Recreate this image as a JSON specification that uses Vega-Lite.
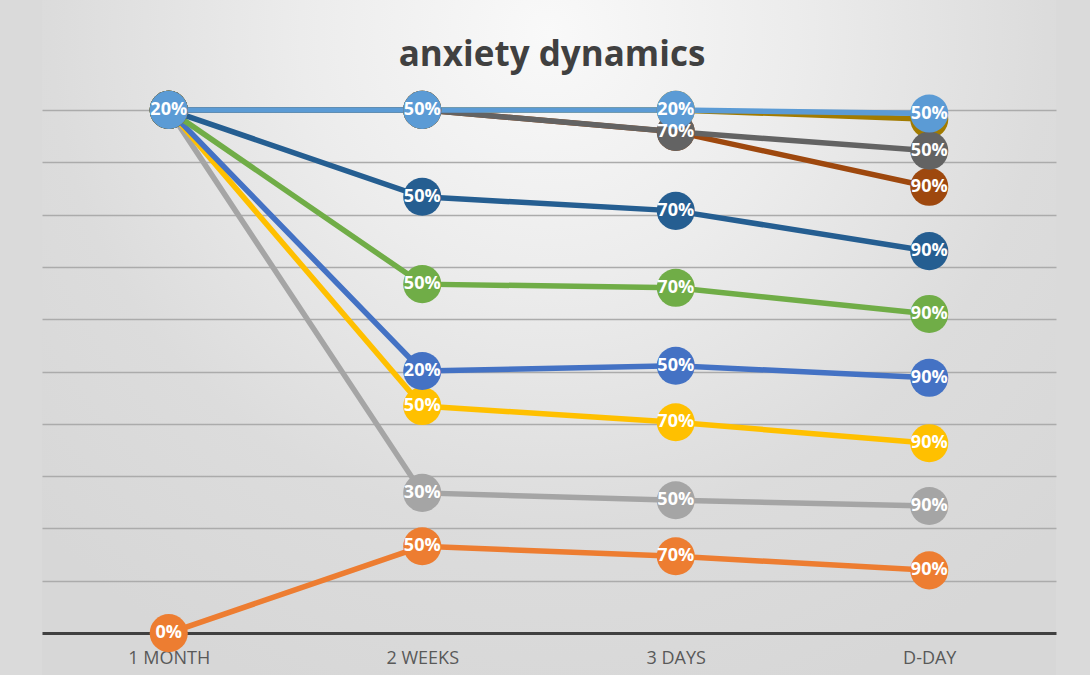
{
  "$schema": "https://vega.github.io/schema/vega-lite/v6.json",
  "width": 1014,
  "height": 675,
  "autosize": {"type": "none"},
  "padding": {"left": 42, "right": 34, "top": 0, "bottom": 0},
  "background": "#dadada",
  "title": {
    "text": "anxiety dynamics",
    "orient": "top",
    "anchor": "middle",
    "frame": "group",
    "offset": -101,
    "baseline": "alphabetic",
    "dx": 3,
    "font": "Open Sans",
    "fontSize": 35,
    "fontWeight": "bold",
    "color": "#404040"
  },
  "config": {
    "view": {
      "stroke": null,
      "fill": {
        "gradient": "radial",
        "x1": 0.5, "y1": 0.2, "r1": 0,
        "x2": 0.5, "y2": 0.2, "r2": 0.7,
        "stops": [
          {"offset": 0, "color": "#f9f9f9"},
          {"offset": 0.35, "color": "#ececec"},
          {"offset": 0.7, "color": "#dcdcdc"},
          {"offset": 1, "color": "#d7d7d7"}
        ]
      }
    }
  },
  "data": {
    "values": [
      {"series": "orange", "period": "1 MONTH", "v": 0, "label": "0%"},
      {"series": "orange", "period": "2 WEEKS", "v": 1.66, "label": "50%"},
      {"series": "orange", "period": "3 DAYS", "v": 1.47, "label": "70%"},
      {"series": "orange", "period": "D-DAY", "v": 1.2, "label": "90%"},
      {"series": "lightgray", "period": "1 MONTH", "v": 10, "label": null},
      {"series": "lightgray", "period": "2 WEEKS", "v": 2.68, "label": "30%"},
      {"series": "lightgray", "period": "3 DAYS", "v": 2.54, "label": "50%"},
      {"series": "lightgray", "period": "D-DAY", "v": 2.43, "label": "90%"},
      {"series": "yellow", "period": "1 MONTH", "v": 10, "label": null},
      {"series": "yellow", "period": "2 WEEKS", "v": 4.34, "label": "50%"},
      {"series": "yellow", "period": "3 DAYS", "v": 4.03, "label": "70%"},
      {"series": "yellow", "period": "D-DAY", "v": 3.63, "label": "90%"},
      {"series": "blue", "period": "1 MONTH", "v": 10, "label": null},
      {"series": "blue", "period": "2 WEEKS", "v": 5.01, "label": "20%"},
      {"series": "blue", "period": "3 DAYS", "v": 5.11, "label": "50%"},
      {"series": "blue", "period": "D-DAY", "v": 4.88, "label": "90%"},
      {"series": "green", "period": "1 MONTH", "v": 10, "label": null},
      {"series": "green", "period": "2 WEEKS", "v": 6.67, "label": "50%"},
      {"series": "green", "period": "3 DAYS", "v": 6.6, "label": "70%"},
      {"series": "green", "period": "D-DAY", "v": 6.1, "label": "90%"},
      {"series": "darkblue", "period": "1 MONTH", "v": 10, "label": null},
      {"series": "darkblue", "period": "2 WEEKS", "v": 8.34, "label": "50%"},
      {"series": "darkblue", "period": "3 DAYS", "v": 8.07, "label": "70%"},
      {"series": "darkblue", "period": "D-DAY", "v": 7.3, "label": "90%"},
      {"series": "brown", "period": "1 MONTH", "v": 10, "label": null},
      {"series": "brown", "period": "2 WEEKS", "v": 10, "label": null},
      {"series": "brown", "period": "3 DAYS", "v": 9.58, "label": null},
      {"series": "brown", "period": "D-DAY", "v": 8.53, "label": "90%"},
      {"series": "gold", "period": "1 MONTH", "v": 10, "label": null},
      {"series": "gold", "period": "2 WEEKS", "v": 10, "label": null},
      {"series": "gold", "period": "3 DAYS", "v": 10, "label": null},
      {"series": "gold", "period": "D-DAY", "v": 9.82, "label": null},
      {"series": "gray", "period": "1 MONTH", "v": 10, "label": null},
      {"series": "gray", "period": "2 WEEKS", "v": 10, "label": null},
      {"series": "gray", "period": "3 DAYS", "v": 9.58, "label": "70%"},
      {"series": "gray", "period": "D-DAY", "v": 9.22, "label": "50%"},
      {"series": "lightblue", "period": "1 MONTH", "v": 10, "label": "20%"},
      {"series": "lightblue", "period": "2 WEEKS", "v": 10, "label": "50%"},
      {"series": "lightblue", "period": "3 DAYS", "v": 10, "label": "20%"},
      {"series": "lightblue", "period": "D-DAY", "v": 9.93, "label": "50%"}
    ]
  },
  "encoding": {
    "x": {
      "field": "period",
      "type": "ordinal",
      "sort": ["1 MONTH", "2 WEEKS", "3 DAYS", "D-DAY"],
      "scale": {"type": "point", "padding": 0.5},
      "axis": {
        "title": null,
        "orient": "bottom",
        "offset": -42,
        "domainColor": "#404040",
        "domainWidth": 3,
        "ticks": false,
        "grid": false,
        "labelAngle": 0,
        "labelPadding": 16,
        "labelFont": "Open Sans",
        "labelFontSize": 18,
        "labelColor": "#595959"
      }
    },
    "y": {
      "field": "v",
      "type": "quantitative",
      "scale": {"domain": [-0.8, 12.1], "nice": false, "zero": false},
      "axis": {
        "title": null,
        "values": [1, 2, 3, 4, 5, 6, 7, 8, 9, 10],
        "labels": false,
        "ticks": false,
        "domain": false,
        "grid": true,
        "gridColor": "#ababab",
        "gridWidth": 1.5
      }
    },
    "color": {
      "field": "series",
      "type": "nominal",
      "legend": null,
      "scale": {
        "domain": ["orange", "lightgray", "yellow", "blue", "green", "darkblue", "brown", "gold", "gray", "lightblue"],
        "range": ["#ED7D31", "#A5A5A5", "#FFC000", "#4472C4", "#70AD47", "#255E91", "#9E480E", "#A27B00", "#636363", "#5B9BD5"]
      }
    }
  },
  "layer": [
    {
      "mark": {"type": "line", "strokeWidth": 5.5, "strokeCap": "round"},
      "encoding": {}
    },
    {
      "mark": {"type": "circle", "size": 1450, "opacity": 1},
      "encoding": {}
    },
    {
      "transform": [{"filter": "datum.label != null"}],
      "mark": {
        "type": "text",
        "font": "Open Sans",
        "fontSize": 18,
        "fontWeight": "bold",
        "baseline": "middle",
        "align": "center"
      },
      "encoding": {
        "text": {"field": "label"},
        "color": {"value": "white"}
      }
    }
  ]
}
